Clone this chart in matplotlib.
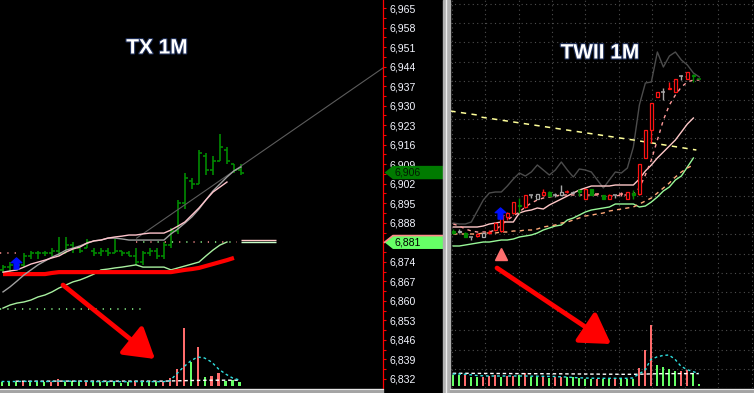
import numpy as np
import matplotlib
matplotlib.use("Agg")
import matplotlib.pyplot as plt
import matplotlib.patheffects as pe
import matplotlib.transforms as mtransforms
from matplotlib.path import Path
from matplotlib.patches import Polygon, Rectangle

W, H = 754, 393

# ---------------- TX 1M (left chart) ----------------
tx_ticks = [6965, 6958, 6951, 6944, 6937, 6930, 6923, 6916, 6909, 6902,
            6895, 6888, 6881, 6874, 6867, 6860, 6853, 6846, 6839, 6832]
tx_tick_labels = ['6,965', '6,958', '6,951', '6,944', '6,937', '6,930', '6,923',
                  '6,916', '6,909', '6,902', '6,895', '6,888', '6,881', '6,874',
                  '6,867', '6,860', '6,853', '6,846', '6,839', '6,832']

tx_open = [6871, 6872, 6873, 6873, 6876, 6877, 6877, 6877, 6878, 6877, 6880, 6879,
           6879, 6878, 6877, 6878, 6877, 6878, 6877, 6876, 6874, 6877, 6878, 6876,
           6880, 6885, 6895, 6903, 6902, 6912, 6907, 6910, 6914, 6909, 6907]
tx_high = [6873, 6874, 6874, 6877, 6878, 6878, 6878, 6879, 6883, 6883, 6881, 6879,
           6882, 6879, 6879, 6879, 6882, 6878, 6878, 6879, 6878, 6879, 6879, 6881,
           6886, 6896, 6906, 6904, 6914, 6913, 6912, 6920, 6915, 6909, 6909]
tx_low = [6870, 6870, 6872, 6872, 6875, 6875, 6876, 6876, 6876, 6877, 6877, 6877,
          6879, 6876, 6876, 6876, 6877, 6876, 6876, 6873, 6873, 6876, 6875, 6875,
          6879, 6884, 6893, 6900, 6902, 6905, 6905, 6910, 6909, 6906, 6905]
tx_close = [6872, 6873, 6873, 6876, 6877, 6877, 6877, 6878, 6877, 6880, 6879, 6878,
            6881, 6877, 6878, 6877, 6878, 6877, 6876, 6874, 6877, 6878, 6876, 6880,
            6885, 6895, 6904, 6902, 6913, 6907, 6910, 6915, 6910, 6907, 6906]

tx_ma_gray = [6863.2, 6865.0, 6867.1, 6869.3, 6871.1, 6872.9, 6874.3, 6875.7, 6876.8,
              6878.2, 6878.9, 6879.7, 6880.7, 6881.5, 6881.8, 6882.5, 6882.5, 6882.2,
              6881.8, 6881.8, 6881.8, 6881.8, 6881.8, 6881.8, 6884.0, 6885.8, 6887.9,
              6890.1, 6892.9, 6896.2, 6899.4, 6901.9, 6904.4, 6906.6, 6908.0]
tx_ma_pink = [6870.3, 6870.7, 6871.1, 6872.1, 6873.2, 6873.9, 6874.6, 6875.4, 6876.1,
              6877.5, 6878.6, 6879.3, 6880.7, 6881.5, 6881.8, 6882.5, 6882.9, 6883.2,
              6883.6, 6883.6, 6884.0, 6884.3, 6884.3, 6884.3, 6885.4, 6886.8, 6888.3,
              6890.8, 6893.3, 6896.2, 6899.0, 6900.8, 6902.6]
tx_ma_green = [6857.4, 6858.5, 6859.2, 6859.6, 6860.3, 6861.4, 6862.1, 6863.2, 6864.6,
               6865.7, 6866.8, 6867.5, 6868.5, 6869.6, 6871.1, 6871.4, 6871.8, 6872.1,
               6872.5, 6872.9, 6872.1, 6872.1, 6872.1, 6872.1, 6871.1, 6871.8, 6872.5,
               6873.2, 6873.9, 6876.1, 6878.2, 6880.0, 6881.1]
tx_ma_red = [6869.6, 6869.6, 6869.6, 6869.6, 6869.6, 6869.6, 6869.6, 6870.0, 6870.3,
             6870.3, 6870.3, 6870.3, 6870.3, 6870.3, 6870.3, 6870.3, 6870.3, 6870.3,
             6870.3, 6870.3, 6870.3, 6870.3, 6870.3, 6870.3, 6870.3, 6870.7, 6871.1,
             6871.4, 6871.8, 6872.5, 6873.2, 6873.9, 6874.6, 6875.4]
tx_trend_x = [19.1, 54.3]
tx_trend_y = [6882.5, 6943.5]

tx_last = 6906
tx_ref = 6881
tx_level_low = 6857
tx_level_pink = 6877
tx_signal = (1.8, 6873.6)

tx_vol = [40, 40, 40, 50, 40, 40, 40, 40, 70, 40, 50, 40, 40, 40, 40, 40, 40, 30,
          40, 50, 40, 40, 40, 40, 80, 170, 580, 240, 390, 90, 100, 130, 50, 60, 40]
tx_vol_side = 'gggpgggppgggpggggggpgggppppgpgppggg'
tx_vol_ma = [45, 45, 45, 46, 46, 46, 45, 45, 48, 48, 48, 47, 46, 44, 44, 44, 44, 43,
             43, 44, 44, 44, 44, 43, 50, 120, 190, 250, 290, 280, 240, 170, 120, 80, 60]
tx_vol_avg = [48, 48, 48, 48, 48, 49, 49, 49, 49, 49, 49, 49, 49, 49, 49, 49, 49,
              49, 49, 49, 49, 49, 50, 52, 53, 55, 56, 57, 58, 58, 58, 58, 58]

# ---------------- TWII 1M (right chart) ----------------
tw_open = [6834.5, 6834.5, 6833.5, 6831.5, 6832, 6831.5, 6833.5, 6835, 6834.5, 6841.5,
           6843.5, 6847.5, 6846.5, 6852.5, 6850.5, 6852.5, 6854, 6852.5, 6854, 6854,
           6853.5, 6855, 6850.5, 6855.5, 6853, 6852.5, 6850.5, 6852.5, 6853, 6850.5,
           6853.5, 6853, 6871, 6885, 6901.5, 6904, 6905.5, 6904, 6912, 6910.5, 6912.5, 6910.5]
tw_high = [6835.5, 6835.5, 6834, 6831.5, 6833.5, 6833.5, 6835, 6839, 6843.5, 6844,
           6849, 6851, 6852.5, 6852.5, 6853, 6855.5, 6854.5, 6853.5, 6857.5, 6855,
           6854.5, 6855.5, 6855.5, 6855.5, 6853.5, 6852.5, 6853, 6852.5, 6854, 6854,
           6855, 6868, 6885, 6898.5, 6904, 6906, 6909, 6910.5, 6912.5, 6914, 6913, 6910.5]
tw_low = [6833, 6833.5, 6831.5, 6830, 6831.5, 6831.5, 6833, 6834.5, 6834, 6840,
          6843, 6843.5, 6846, 6851, 6850.5, 6852, 6852, 6851.5, 6852.5, 6853.5,
          6853, 6852, 6850.5, 6852.5, 6852.5, 6850.5, 6850.5, 6851, 6852, 6850.5,
          6850.5, 6852.5, 6871, 6878.5, 6901.5, 6900, 6905.5, 6904, 6910, 6910.5, 6909, 6910.5]
tw_close = [6833.5, 6834, 6831.5, 6831.5, 6833, 6833.5, 6834, 6838.5, 6842.5, 6843.5,
            6849, 6847, 6852.5, 6852.5, 6853, 6854, 6852, 6852.5, 6852.5, 6854,
            6853.5, 6854, 6855.5, 6852.5, 6853, 6850.5, 6852.5, 6852.5, 6853, 6854,
            6852.5, 6868, 6885, 6898.5, 6904, 6904, 6906, 6910.5, 6912, 6914, 6912, 6910.5]
tw_kind = 'gwgwrwrrrrrgrwwrgwwrwgrgpgrwprgrrrrwrrwrgg'

tw_env = [6838.5, 6838, 6838, 6839, 6844.5, 6850, 6853.5, 6854, 6854, 6857,
          6860.5, 6863.5, 6862, 6864, 6867.5, 6865, 6862.5, 6865, 6869, 6865,
          6861.5, 6865.5, 6865, 6864, 6860, 6856, 6860, 6864, 6863.5, 6866,
          6876.5, 6897.5, 6908.5, 6909, 6924, 6916.5, 6922, 6924, 6920, 6917.5, 6913.5, 6911.5]
tw_fast = [6838, 6837, 6835.5, 6834.5, 6834, 6834, 6834, 6835, 6837.5, 6840,
           6842, 6844, 6846.5, 6848.5, 6850, 6851, 6851.5, 6852, 6852.5, 6852.5,
           6852.5, 6852.5, 6852.5, 6852.5, 6852.5, 6852, 6852, 6852, 6852.5, 6852.5,
           6853, 6856, 6862.5, 6870, 6880, 6890, 6897.5, 6902.5, 6906.5, 6909, 6910, 6910]
tw_mid = [6836.5, 6836.5, 6836.5, 6836.5, 6836.5, 6837, 6838, 6838.5, 6839, 6839,
          6839, 6843.5, 6844.5, 6845, 6846, 6845.5, 6847.5, 6849, 6850.5, 6852,
          6853.5, 6855, 6856, 6857, 6857, 6857, 6857, 6857.5, 6857.5, 6857.5,
          6857.5, 6860.5, 6864.5, 6867.5, 6871, 6874, 6877, 6880, 6884, 6888, 6891]
tw_slow = [6833, 6833, 6833, 6833, 6833, 6833.5, 6833.5, 6833.5, 6834, 6834,
           6834.5, 6834.5, 6835, 6835, 6835.5, 6836.5, 6837, 6837.5, 6838.5, 6839,
           6840, 6841, 6842, 6842.5, 6843, 6843.5, 6844.5, 6845, 6845.5, 6846,
           6846.5, 6848, 6849.5, 6851, 6853.5, 6856, 6858.5, 6861.5, 6864, 6866, 6867.5]
tw_long = [6827, 6827, 6827.5, 6828, 6828.5, 6829, 6829, 6829.5, 6830, 6830,
           6830.5, 6831.5, 6832, 6832.5, 6833.5, 6835, 6836, 6837, 6837.5, 6840,
           6841, 6842.5, 6844, 6845, 6845.5, 6846, 6846.5, 6848, 6848, 6848,
           6848, 6846.5, 6847, 6849, 6851.5, 6854.5, 6856.5, 6860, 6862, 6866.5, 6871]
tw_trend_x = [-0.5, 4, 4.5, 30, 40.5]
tw_trend_y = [6894.5, 6892.5, 6891.5, 6880, 6875]
tw_signal = (7.8, 6843.5)
tw_triangle = (8.0, 6823)

tw_vol = [110, 110, 110, 90, 90, 90, 100, 110, 90, 100, 100, 110, 130, 90, 90, 90, 80,
          90, 90, 90, 90, 80, 70, 70, 70, 70, 70, 80, 70, 70, 70, 180, 360, 610, 210,
          190, 170, 150, 150, 160, 130, 20]
tw_vol_side = 'ggpggpppgppgpggpgppgggggpggpgggpppggggppgg'
tw_vol_ma = [120, 120, 118, 112, 105, 102, 100, 100, 100, 100, 100, 100, 100, 98, 98,
             97, 96, 95, 92, 90, 85, 82, 80, 78, 77, 77, 77, 77, 77, 77, 80, 120, 155,
             265, 290, 305, 310, 270, 200, 165, 145, 125]
tw_vol_avg = [127, 127, 127, 127, 126, 126, 126, 125, 125, 125, 124, 124, 124, 123,
              123, 123, 122, 122, 122, 121, 121, 120, 120, 119, 119, 118, 118, 118,
              117, 117, 117, 118, 119, 121, 122, 123, 123, 124, 124, 124, 124, 124]

# ---------------- figure ----------------
fig = plt.figure(figsize=(W / 100, H / 100), dpi=100, facecolor='black')


def px_axes(x0, y0, x1, y1):
    # place an axes by pixel box (origin top-left)
    return fig.add_axes([x0 / W, 1 - y1 / H, (x1 - x0) / W, (y1 - y0) / H])


VOL_G = '#66ff66'
VOL_P = '#ff6b6b'

# ---- left price panel ----
ax = px_axes(0, 0, 383, 388)
ax.set_facecolor('black')
ax.set_xlim(-0.43, 54.3)
ax.set_ylim(6828.75, 6967.87)
for s in ['top', 'left', 'bottom']:
    ax.spines[s].set_visible(False)
ax.spines['right'].set_color('#ff0000')
ax.spines['right'].set_linewidth(0.9)
ax.set_xticks([])
ax.yaxis.set_ticks_position('right')
ax.set_yticks(tx_ticks)
# the 6,881 label sits under the reference-price tag, which shows the same text
ax.set_yticklabels(['' if t == tx_ref else lab for t, lab in zip(tx_ticks, tx_tick_labels)],
                   family='Liberation Sans')
ax.set_yticks([t + 3.5 for t in tx_ticks[1:]], minor=True)
ax.tick_params(axis='y', which='both', direction='out', length=2.3, width=0.8,
               color='#ff0000', pad=2.2, labelcolor='#f4f6ff', labelsize=7.6)

x = np.arange(len(tx_close))
GREEN = '#008a00'
ax.vlines(x, tx_low, tx_high, color=GREEN, lw=1.2)
ax.hlines(tx_open, x - 0.42, x, color=GREEN, lw=1.2)
ax.hlines(tx_close, x, x + 0.42, color=GREEN, lw=1.2)

ax.plot(tx_trend_x, tx_trend_y, color='#5c5c5c', lw=0.8)
ax.plot(x[:len(tx_ma_green)], tx_ma_green, color='#a8f0a0', lw=1.0)
ax.plot(x[:len(tx_ma_red)], tx_ma_red, color='#ff0000', lw=3.0, solid_capstyle='butt')
ax.plot(x, tx_ma_gray, color='#a0a0a0', lw=1.0)
ax.plot(x[:len(tx_ma_pink)], tx_ma_pink, color='#ffc4cc', lw=1.0)

# reference levels
ax.hlines(tx_ref, 19, 33.5, color='#ff9090', lw=1.1, linestyle=(0, (0.8, 8.6)))
ax.hlines(tx_ref, 19, 33.5, color='#90ff90', lw=1.1, linestyle=(4.7, (0.8, 8.6)))
ax.hlines(tx_ref + 0.8, 34, 39, color='#ffc8c8', lw=1.0)
ax.hlines(tx_ref, 34, 39, color='#c8ffc8', lw=1.0)
ax.hlines(tx_level_low, -0.4, 20, color='#90ff90', lw=1.1, linestyle=(0, (0.8, 4)))
ax.hlines(tx_level_pink, -0.4, 2.5, color='#ff9090', lw=1.1, linestyle=(0, (0.8, 4)))

# signal arrow marker
up_arrow = Path([(0, 1), (-0.95, 0.15), (-0.42, 0.15), (-0.42, -1), (0.42, -1),
                 (0.42, 0.15), (0.95, 0.15), (0, 1)],
                [Path.MOVETO] + [Path.LINETO] * 6 + [Path.CLOSEPOLY])
ax.plot([tx_signal[0]], [tx_signal[1]], marker=up_arrow, ms=8, color='#0010ff', ls='none')

# price tags on the axis
tag_tf = mtransforms.blended_transform_factory(ax.transAxes, ax.transData)


def price_tag(p, label, face, txt, top_edge=None):
    hh = 2.4
    verts = [(1.004, p), (1.026, p + hh), (1.157, p + hh), (1.157, p - hh), (1.026, p - hh)]
    ax.add_patch(Polygon(verts, closed=True, transform=tag_tf, facecolor=face,
                         edgecolor='none', clip_on=False, zorder=6))
    if top_edge:
        ax.plot([1.004, 1.026, 1.157], [p, p + hh, p + hh], transform=tag_tf,
                color=top_edge, lw=1.2, clip_on=False, zorder=7)
    ax.text(1.03, p, label, transform=tag_tf, ha='left', va='center', fontsize=7.6,
            family='Liberation Sans', color=txt, zorder=8, clip_on=False)


price_tag(tx_last, '6,906', '#007a00', '#021a02')
price_tag(tx_ref, '6,881', '#66ff66', '#000000', top_edge='#ff8a8a')

# left volume
axv = px_axes(0, 316, 383, 386)
axv.patch.set_alpha(0)
axv.set_xlim(-0.43, 54.3)
axv.set_ylim(0, 700)
axv.axis('off')
axv.bar(x - 0.2, tx_vol, width=0.3, color=[VOL_G if s == 'g' else VOL_P for s in tx_vol_side])
axv.plot(x[2:] - 0.2, tx_vol_avg, color='white', lw=1.0, ls=(0, (2.5, 2)))
axv.plot(x - 0.2, tx_vol_ma, color='#30e0e0', lw=1.0, ls=(0, (2, 2)))

# ---- right price panel ----
ax2 = px_axes(450, 0, 754, 388)
ax2.set_facecolor('black')
ax2.set_xlim(-0.55, 50.1)
ax2.set_ylim(6756, 6950)
for s in ax2.spines.values():
    s.set_visible(False)
ax2.set_xticks(np.arange(-0.22, 50.1, 5.55))
ax2.set_yticks(6948 - 9.6 * np.arange(21))
ax2.tick_params(length=0, labelleft=False, labelbottom=False)
ax2.grid(True, color='#4e4e4e', lw=0.8, ls=(0, (1, 3)))
ax2.set_axisbelow(True)

k = np.arange(len(tw_close))
kind_col = {'r': '#ff1414', 'g': '#008a00', 'w': '#a8a8a8', 'p': '#ff8c8c'}

ax2.plot(k, tw_env, color='#4c4c4c', lw=1.0)
ax2.plot(tw_trend_x, tw_trend_y, color='#ffff99', lw=1.1, ls=(0, (3.5, 3.5)))
ax2.plot(k[:len(tw_long)], tw_long, color='#98f898', lw=1.0)
ax2.plot(k[:len(tw_slow)], tw_slow, color='#ffa878', lw=1.0, ls=(0, (3, 3)))
ax2.plot(k[:len(tw_mid)], tw_mid, color='#ffc8c8', lw=1.0)
ax2.plot(k, tw_fast, color='#ff9a9a', lw=1.0, ls=(0, (2.5, 3)))

for i in k:
    c = kind_col[tw_kind[i]]
    o, hi, lo, cl = tw_open[i], tw_high[i], tw_low[i], tw_close[i]
    ax2.vlines(i, lo, hi, color=c, lw=1.0, zorder=3)
    if o == cl:
        ax2.hlines(o, i - 0.35, i + 0.35, color=c, lw=1.1, zorder=4)
    else:
        filled = tw_kind[i] in 'gp'
        ax2.bar(i, abs(cl - o), bottom=min(o, cl), width=0.55, zorder=4,
                facecolor=c if filled else 'black', edgecolor=c, lw=0.9)

ax2.plot([tw_signal[0]], [tw_signal[1]], marker=up_arrow, ms=8, color='#0010ff', ls='none', zorder=5)
ax2.plot([tw_triangle[0]], [tw_triangle[1]], marker='^', ms=8, color='#ff6f6f', ls='none', zorder=5)

# right volume
axv2 = px_axes(450, 316, 754, 386)
axv2.patch.set_alpha(0)
axv2.set_xlim(-0.55, 50.1)
axv2.set_ylim(0, 700)
axv2.axis('off')
axv2.bar(k - 0.1, tw_vol, width=0.33, color=[VOL_G if s == 'g' else VOL_P for s in tw_vol_side])
axv2.plot(k - 0.1, tw_vol_avg, color='white', lw=1.0, ls=(0, (2.5, 2)))
axv2.plot(k - 0.1, tw_vol_ma, color='#30e0e0', lw=1.0, ls=(0, (2, 2)))

# ---- overlay: frame pieces, titles, annotation arrows ----
ov = fig.add_axes([0, 0, 1, 1])
ov.set_xlim(0, W)
ov.set_ylim(H, 0)
ov.axis('off')
ov.patch.set_alpha(0)
ov.add_patch(Rectangle((443, 0), 6.5, H, color='#b0b0b0'))
ov.plot([446.2, 446.2], [0, H], color='#ececec', lw=1.0)
ov.add_patch(Rectangle((0, 388.5), 383, 4.5, color='#a4a4a4'))
ov.add_patch(Rectangle((450, 388.5), 304, 4.5, color='#a4a4a4'))
ov.plot([0, 383], [389.2, 389.2], color='#e6e6e6', lw=0.8)
ov.plot([450, 754], [389.2, 389.2], color='#e6e6e6', lw=0.8)

title_fx = [pe.withStroke(linewidth=1.6, foreground='#1c2c55')]
ov.text(157, 48, 'TX 1M', ha='center', va='center', fontsize=15, fontweight='bold',
        color='white', family='Liberation Sans', path_effects=title_fx)
ov.text(600, 53, 'TWII 1M', ha='center', va='center', fontsize=15, fontweight='bold',
        color='white', family='Liberation Sans', path_effects=title_fx)

arrow_style = dict(arrowstyle='-|>,head_length=0.9,head_width=0.55', mutation_scale=20,
                   lw=3.4, color='#ff0000', shrinkA=0, shrinkB=0)
ov.annotate('', xy=(155, 359), xytext=(63, 285), arrowprops=arrow_style)
ov.annotate('', xy=(611, 344), xytext=(497, 268), arrowprops=arrow_style)

fig.savefig('out.png', dpi=100, facecolor='black')
